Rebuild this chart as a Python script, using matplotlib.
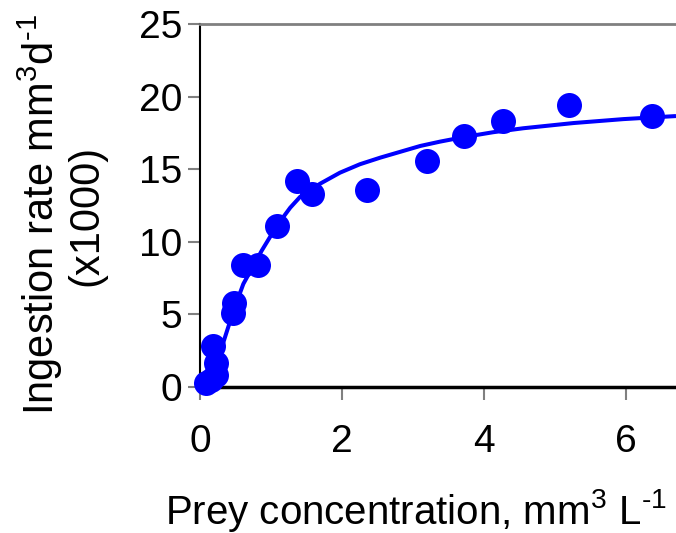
import matplotlib
matplotlib.use("Agg")
import matplotlib.pyplot as plt

plt.rcParams['font.family'] = ['Liberation Sans', 'DejaVu Sans']
plt.rcParams['mathtext.fontset'] = 'custom'
plt.rcParams['mathtext.rm'] = 'Liberation Sans'
plt.rcParams['mathtext.it'] = 'Liberation Sans'
plt.rcParams['mathtext.default'] = 'regular'

# observed data
prey_conc = [0.09, 0.16, 0.23, 0.23, 0.19, 0.46, 0.48, 0.61, 0.81, 1.08, 1.36, 1.57,
             2.35, 3.19, 3.71, 4.26, 5.19, 6.36]
ingestion = [0.25, 0.5, 0.83, 1.63, 2.85, 5.12, 5.81, 8.41, 8.41, 11.06, 14.2, 13.3,
             13.57, 15.54, 17.31, 18.34, 19.45, 18.69]

# fitted curve
curve_x = [0.13, 0.26, 0.38, 0.47, 0.61, 0.87, 1.08, 1.27, 1.41, 1.69, 1.97, 2.25,
           2.54, 2.82, 3.10, 3.38, 3.70, 4.13, 4.55, 5.26, 5.96, 6.70]
curve_y = [0.10, 2.02, 3.86, 5.23, 7.10, 9.40, 11.09, 12.35, 13.10, 14.00, 14.76, 15.34,
           15.80, 16.20, 16.60, 16.90, 17.20, 17.55, 17.82, 18.18, 18.45, 18.66]

x_ticks = [0, 2, 4, 6]
y_ticks = [0, 5, 10, 15, 20, 25]

fig = plt.figure(figsize=(6.76, 5.33), dpi=100)
ax = fig.add_axes([200/676, (533-387)/533, 476/676, (387-24)/533])

ax.plot(curve_x, curve_y, color='#0000ff', lw=2.9, solid_capstyle='butt',
        solid_joinstyle='round', zorder=3)
ax.plot(prey_conc, ingestion, 'o', color='#0000ff', markersize=18, mec='none',
        zorder=4, clip_on=False)

ax.set_xlim(0, 6.70)
ax.set_ylim(0, 25)
ax.set_xticks(x_ticks)
ax.set_yticks(y_ticks)
ax.tick_params(axis='both', direction='out', length=9, width=1.5, color='#808080',
               labelsize=28)
ax.tick_params(axis='y', pad=4)
ax.tick_params(axis='x', pad=18)

ax.spines['right'].set_visible(False)
ax.spines['top'].set_color('#808080')
ax.spines['top'].set_linewidth(2)
ax.spines['left'].set_color('black')
ax.spines['left'].set_linewidth(1.5)
ax.spines['bottom'].set_color('black')
ax.spines['bottom'].set_linewidth(2.5)

fig.text(416/676, 9/533, 'Prey concentration, mm$^{3}$ L$^{\u20101}$', fontsize=29,
         ha='center', va='baseline')
ax.set_ylabel('Ingestion rate mm$^{3}$d$^{\u20101}$\n(x1000)', fontsize=30,
              linespacing=1.05)
ax.yaxis.set_label_coords(-0.197, 0.474)

fig.savefig('out.png', dpi=100)
